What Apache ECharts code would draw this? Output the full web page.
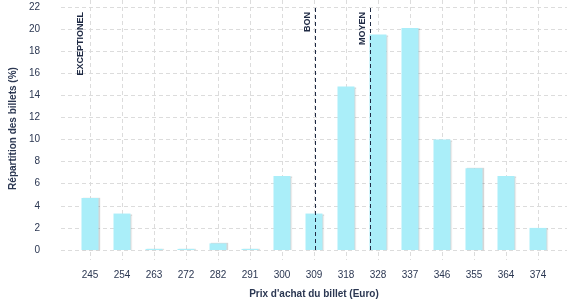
<!DOCTYPE html>
<html><head><meta charset="utf-8">
<script src="https://cdn.jsdelivr.net/npm/echarts@6/dist/echarts.min.js"></script>
<style>html,body{margin:0;padding:0;background:#fff}#c{width:577px;height:300px}</style>
</head><body><div id="c"></div>
<script>
const categories = ['245','254','263','272','282','291','300','309','318','328','337','346','355','364','374'];
const shares = [4.7, 3.3, 0.1, 0.1, 0.6, 0.1, 6.7, 3.3, 14.8, 19.5, 20.1, 10.0, 7.4, 6.7, 2.0];
const yTicks = {min: 0, max: 22, interval: 2};
// reference lines: position in category-index units
const refNames = ['EXCEPTIONEL', 'BON', 'MOYEN'];
const refPos = [-0.05, 7.04, 8.76];
const refVisible = [false, true, true];

const txt = '#2b3752';
const font = 'Liberation Sans, Arial, sans-serif';
const pad = 29 / 32;

const chart = echarts.init(document.getElementById('c'), null, {renderer: 'canvas'});
chart.setOption({
  animation: false,
  textStyle: {fontFamily: font},
  grid: [
    {left: 61, right: 10, top: 7, bottom: 50, outerBoundsMode: 'none', containLabel: false},
    {left: 90, right: 39, top: 0, bottom: 40, outerBoundsMode: 'none', containLabel: false}
  ],
  xAxis: [
    {gridIndex: 0, type: 'value', min: -pad, max: categories.length - 1 + pad, show: false},
    {gridIndex: 1, type: 'category', data: categories, boundaryGap: false,
      axisLine: {show: false}, axisTick: {show: false},
      axisLabel: {color: txt, fontSize: 10, margin: 10, interval: 0, fontFamily: font},
      splitLine: {show: true, interval: 0, lineStyle: {color: '#dcdcdc', type: [4, 3], width: 1}},
      name: 'Prix d\'achat du billet (Euro)', nameLocation: 'middle', nameGap: 29,
      nameTextStyle: {color: txt, fontWeight: 'bold', fontSize: 10, fontFamily: font}
    }
  ],
  yAxis: [
    {gridIndex: 0, type: 'value', min: yTicks.min, max: yTicks.max, interval: yTicks.interval,
      axisLine: {show: false}, axisTick: {show: false},
      axisLabel: {color: txt, fontSize: 10, margin: 21, fontFamily: font},
      splitLine: {show: true, lineStyle: {color: '#dcdcdc', type: [4, 3], width: 1}},
      name: 'Répartition des billets (%)', nameLocation: 'middle', nameGap: 39, nameRotate: 90,
      nameTextStyle: {color: txt, fontWeight: 'bold', fontSize: 10, fontFamily: font}
    },
    {gridIndex: 1, type: 'value', min: 0, max: 1, show: false}
  ],
  series: [
    {type: 'bar', xAxisIndex: 0, yAxisIndex: 0, data: shares.map((v, i) => [i, v]), barWidth: 17,
      itemStyle: {color: '#aaeef9', shadowColor: 'rgba(0,0,0,0.16)', shadowOffsetX: 1.5, shadowBlur: 1},
      markLine: {
        symbol: 'none', silent: true, animation: false,
        data: refNames.map((n, i) => [
          {coord: [refPos[i], 0], name: n,
            lineStyle: {color: refVisible[i] ? '#1f2a44' : 'rgba(0,0,0,0)', type: [4, 3], width: 1}},
          {coord: [refPos[i], 22]}
        ]),
        label: {show: true, position: 'insideEndTop', formatter: '{b}', color: '#1f2a44',
          fontSize: 9, fontWeight: 'bold', fontFamily: font, distance: [5, 3]}
      }
    }
  ]
});
</script></body></html>
